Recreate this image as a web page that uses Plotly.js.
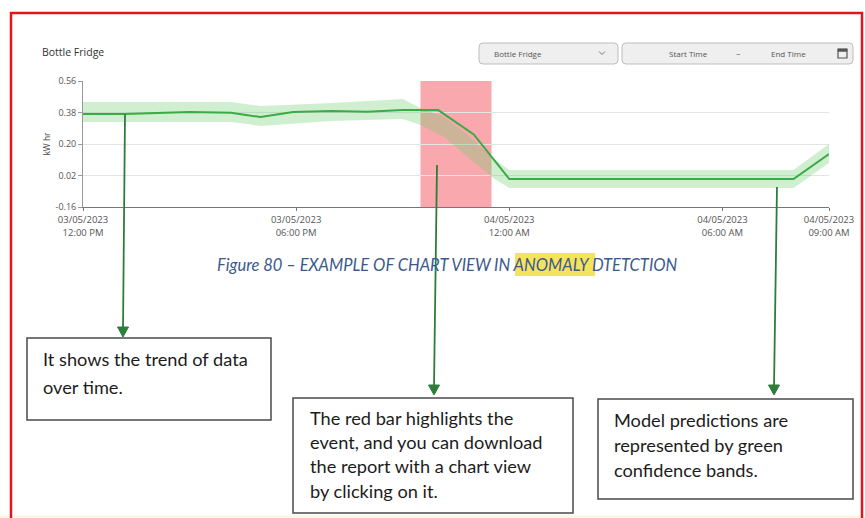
<!DOCTYPE html>
<html><head><meta charset="utf-8">
<script src="https://cdn.plot.ly/plotly-3.0.1.min.js"></script>
<style>html,body{margin:0;padding:0;background:#fff;overflow:hidden}#chart{width:865px;height:518px}</style>
</head><body><div id="chart"></div>
<script>
// ---------- data ----------
const chartTitle = 'Bottle Fridge';
const yAxisTitle = 'kW hr';
const times  = ['2023-05-03 12:00','2023-05-03 13:10','2023-05-03 15:00','2023-05-03 16:10','2023-05-03 17:00','2023-05-03 17:55','2023-05-03 19:00','2023-05-03 20:00','2023-05-03 21:00','2023-05-03 22:00','2023-05-03 23:00','2023-05-04 00:00','2023-05-04 08:00','2023-05-04 09:00'];
const actual = [0.371, 0.372, 0.383, 0.378, 0.354, 0.383, 0.389, 0.384, 0.394, 0.394, 0.255, 0.0, 0.0, 0.143];
const bandTimes = ['2023-05-03 12:00','2023-05-03 16:10','2023-05-03 17:00','2023-05-03 19:00','2023-05-03 21:00','2023-05-03 21:30','2023-05-03 22:10','2023-05-03 22:50','2023-05-03 23:30','2023-05-04 00:00','2023-05-04 08:00','2023-05-04 09:00'];
const bandUpper = [0.440, 0.440, 0.417, 0.434, 0.457, 0.406, 0.354, 0.251, 0.126, 0.051, 0.051, 0.200];
const bandLower = [0.326, 0.326, 0.303, 0.331, 0.343, 0.309, 0.240, 0.126, 0.011, -0.051, -0.051, 0.091];
const eventStart = '2023-05-03 21:30';
const eventEnd   = '2023-05-03 23:30';
const xRange = ['2023-05-03 12:00','2023-05-04 09:00'];
const xTickVals = ['2023-05-03 12:00','2023-05-03 18:00','2023-05-04 00:00','2023-05-04 06:00','2023-05-04 09:00'];
const xTickLabels = ['03/05/2023<br>12:00 PM','03/05/2023<br>06:00 PM','04/05/2023<br>12:00 AM','04/05/2023<br>06:00 AM','04/05/2023<br>09:00 AM'];
const yTickVals = [-0.16, 0.02, 0.20, 0.38, 0.56];
const yTickLabels = ['-0.16','0.02','0.20','0.38','0.56'];
const dropdownLabel = 'Bottle Fridge';
const startLabel = 'Start Time';
const endLabel = 'End Time';
const caption = 'Figure 80 – EXAMPLE OF CHART VIEW IN ANOMALY DTETCTION';
const note1 = ['It shows the trend of data', 'over time.'];
const note2 = ['The red bar highlights the', 'event, and you can download', 'the report with a chart view', 'by clicking on it.'];
const note3 = ['Model predictions are', 'represented by green', 'confidence bands.'];

// ---------- helpers (pixel -> paper) ----------
const W = 865, H = 518;
const X = p => p / W;
const Y = p => 1 - p / H;
function rect(x0, y0, x1, y1, fill, line, lw, layer) {
  return {type:'rect', xref:'paper', yref:'paper', x0:X(x0), x1:X(x1), y0:Y(y1), y1:Y(y0),
          fillcolor: fill, line:{color: line || 'rgba(0,0,0,0)', width: lw || 0}, layer: layer || 'above'};
}
function path(pts, fill, line, lw, close) {
  let d = pts.map((p, i) => (i ? 'L' : 'M') + X(p[0]) + ',' + Y(p[1])).join(' ');
  if (close) d += ' Z';
  return {type:'path', xref:'paper', yref:'paper', path:d, fillcolor: fill || 'rgba(0,0,0,0)',
          line:{color: line || 'rgba(0,0,0,0)', width: lw || 0}, layer:'above'};
}
function roundRect(x0, y0, x1, y1, r, fill, line) {
  const q = (x, y) => X(x) + ',' + Y(y);
  const d = 'M' + q(x0 + r, y0) + ' L' + q(x1 - r, y0) + ' Q' + q(x1, y0) + ' ' + q(x1, y0 + r) +
            ' L' + q(x1, y1 - r) + ' Q' + q(x1, y1) + ' ' + q(x1 - r, y1) +
            ' L' + q(x0 + r, y1) + ' Q' + q(x0, y1) + ' ' + q(x0, y1 - r) +
            ' L' + q(x0, y0 + r) + ' Q' + q(x0, y0) + ' ' + q(x0 + r, y0) + ' Z';
  return {type:'path', xref:'paper', yref:'paper', path:d, fillcolor:fill, line:{color:line, width:1}, layer:'above'};
}
function txt(text, x, y, size, color, anchor, family, extra) {
  return Object.assign({text:text, xref:'paper', yref:'paper', x:X(x), y:Y(y), showarrow:false,
          xanchor: anchor || 'left', yanchor:'middle',
          font:{family: family || 'Open Sans, sans-serif', size:size, color:color}}, extra || {});
}
const arrowColor = '#2f7d3b';
function arrow(xTop, yTop, xBot, yTip) {
  return [
    {type:'line', xref:'paper', yref:'paper', x0:X(xTop), y0:Y(yTop), x1:X(xBot), y1:Y(yTip - 8),
     line:{color:arrowColor, width:1.8}, layer:'above'},
    path([[xBot - 5.5, yTip - 10], [xBot + 5.5, yTip - 10], [xBot, yTip]], arrowColor, arrowColor, 1, true)
  ];
}

// ---------- traces ----------
const traces = [
  {x: bandTimes, y: bandLower, type:'scatter', mode:'lines', line:{width:0, color:'rgba(0,0,0,0)'}, hoverinfo:'skip', showlegend:false},
  {x: bandTimes, y: bandUpper, type:'scatter', mode:'lines', fill:'tonexty', fillcolor:'rgba(110,205,110,0.32)',
   line:{width:0, color:'rgba(0,0,0,0)'}, hoverinfo:'skip', showlegend:false},
  {x: times, y: actual, type:'scatter', mode:'lines', line:{color:'#3aab46', width:2}, showlegend:false}
];

// ---------- shapes ----------
const shapes = [
  // event highlight
  {type:'rect', xref:'x', yref:'y', x0:eventStart, x1:eventEnd, y0:yTickVals[0], y1:yTickVals[yTickVals.length-1],
   fillcolor:'rgba(240,40,50,0.40)', line:{width:0}, layer:'below'},
  // cream strip at bottom
  rect(0, 515, 865, 518, '#fbf8e4', null, 0),
  // controls
  roundRect(479, 43, 618, 64, 4, '#efefef', '#bdbdbd'),
  roundRect(622, 43, 853, 64, 4, '#efefef', '#bdbdbd'),
  path([[599, 51.5], [602, 54.5], [605, 51.5]], null, '#777', 1, false),
  rect(838, 49, 847, 58, 'rgba(0,0,0,0)', '#555', 1.2),
  rect(838, 49, 847, 51.5, '#555', '#555', 0.5),
  // caption highlight
  rect(515, 253, 595, 276, '#f6e35c', null, 0, 'below'),
  // note boxes
  rect(27, 338, 271, 420, '#ffffff', '#4a4a4a', 1.5),
  rect(293, 398, 573, 513, '#ffffff', '#4a4a4a', 1.5),
  rect(598, 399, 853, 499, '#ffffff', '#4a4a4a', 1.5),
  // red page frame
  rect(11, 13, 862, 540, 'rgba(0,0,0,0)', '#e5141c', 2.5)
].concat(arrow(125, 114, 123, 337), arrow(437, 165, 434, 395), arrow(777, 187, 774, 395));

// ---------- annotations ----------
const noteFont = 'Lato, sans-serif';
const annotations = [
  txt(chartTitle, 40, 52, 10.5, '#333'),
  txt(dropdownLabel, 492, 53.5, 8, '#555'),
  txt(startLabel, 688, 53.5, 8, '#555', 'center'),
  txt('~', 738, 53.5, 8, '#555', 'center'),
  txt(endLabel, 788, 53.5, 8, '#555', 'center'),
  txt(caption, 447.5, 265, 16.5, '#3b5a8c', 'center', noteFont, {font:{family:noteFont, size:16.5, color:'#3b5a8c', style:'italic'}}),
];
note1.forEach((t, i) => annotations.push(txt(t, 41, 359 + i * 28, 18.2, '#1c1c1c', 'left', noteFont)));
note2.forEach((t, i) => annotations.push(txt(t, 308, 418 + i * 24.2, 18.2, '#1c1c1c', 'left', noteFont)));
note3.forEach((t, i) => annotations.push(txt(t, 612, 420 + i * 25, 18.2, '#1c1c1c', 'left', noteFont)));

// ---------- layout ----------
const layout = {
  width: W, height: H,
  margin:{l:0, r:0, t:0, b:0},
  paper_bgcolor:'#ffffff', plot_bgcolor:'#ffffff',
  font:{family:'Open Sans, sans-serif', color:'#555'},
  showlegend:false,
  xaxis:{
    domain:[X(83), X(829)], type:'date', range:xRange,
    tickmode:'array', tickvals:xTickVals, ticktext:xTickLabels,
    tickfont:{size:9.5, color:'#555'}, ticklabelstandoff:1,
    showgrid:false, zeroline:false, showline:true, linecolor:'#777', linewidth:1,
    ticks:'outside', ticklen:3, tickcolor:'#777', fixedrange:true
  },
  yaxis:{
    domain:[Y(207), Y(81)], range:[yTickVals[0], yTickVals[yTickVals.length-1]],
    tickmode:'array', tickvals:yTickVals, ticktext:yTickLabels,
    tickfont:{size:9, color:'#555'},
    showgrid:true, gridcolor:'#e4e4e4', gridwidth:1, zeroline:false,
    showline:true, linecolor:'#999', linewidth:1,
    ticks:'outside', ticklen:4, tickcolor:'#999', fixedrange:true,
    title:{text:yAxisTitle, font:{size:8.5, color:'#444'}, standoff:3}
  },
  shapes: shapes,
  annotations: annotations
};

Plotly.newPlot('chart', traces, layout, {displayModeBar:false, staticPlot:true});
</script>
</body></html>
